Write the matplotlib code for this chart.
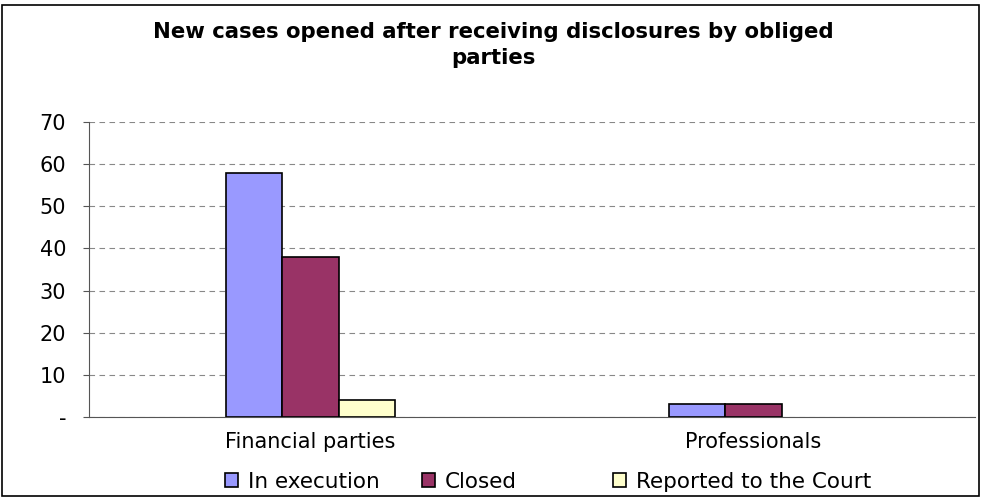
import matplotlib
matplotlib.use('Agg')
import matplotlib.pyplot as plt
import numpy as np

# categories and series
categories = ['Financial parties', 'Professionals']
series_names = ['In execution', 'Closed', 'Reported to the Court']
in_execution = [58, 3]
closed = [38, 3]
reported = [4, 0]
yticks = [0, 10, 20, 30, 40, 50, 60, 70]
ytick_labels = ['-', '10', '20', '30', '40', '50', '60', '70']

colors = ['#9999FF', '#993366', '#FFFFCC']

plt.rcParams['font.family'] = ['DejaVu Sans']

W, H = 982, 497
fig = plt.figure(figsize=(W / 100, H / 100), dpi=100)
ax = fig.add_axes([89 / W, 1 - 417 / H, (975 - 89) / W, (417 - 122) / H])

x = np.arange(len(categories))
w = 0.127
bars = []
for i, (vals, name) in enumerate(zip([in_execution, closed, reported], series_names)):
    # empty bars get no outline
    edges = ['black' if v > 0 else 'none' for v in vals]
    b = ax.bar(x + (i - 1) * w, vals, w, color=colors[i], edgecolor=edges,
               linewidth=1.2, label=name, zorder=3)
    bars.append(b)

ax.set_xlim(-0.5, 1.5)
ax.set_ylim(0, 70)
ax.set_yticks(yticks)
ax.set_yticklabels(ytick_labels, fontsize=15)
ax.set_xticks(x)
ax.set_xticklabels(categories, fontsize=15)
ax.tick_params(axis='x', length=0, pad=11)
ax.tick_params(axis='y', length=4.5, direction='out', color='#555555', pad=12)
ax.grid(axis='y', color='#888888', linestyle=(0, (5, 4)), linewidth=0.8, zorder=0)

for side in ['top', 'right']:
    ax.spines[side].set_visible(False)
ax.spines['left'].set_color('#555555')
ax.spines['bottom'].set_color('#555555')

fig.text(493 / W, 1 - 45 / H, 'New cases opened after receiving disclosures by obliged\nparties',
         ha='center', va='center', fontsize=15.3, fontweight='bold', linespacing=1.35)

# legend: one entry per slot along the bottom
slot_x = [225, 422, 613]
for b, name, sx in zip(bars, series_names, slot_x):
    leg = fig.legend([b], [name], loc='center left', bbox_to_anchor=(sx / W, 1 - 482 / H),
                     frameon=False, fontsize=15.5, handlelength=0.62, handleheight=0.62,
                     handletextpad=0.45, borderpad=0, borderaxespad=0)
    for h in leg.legend_handles:
        h.set_edgecolor('black')
        h.set_linewidth(1.2)

# outer frame around the chart area
fig.patches.append(plt.Rectangle((2 / W, 0.002), 977 / W, 1 - 6 / H, transform=fig.transFigure,
                                 fill=False, edgecolor='black', linewidth=1.2))

fig.savefig('out.png', dpi=100)
